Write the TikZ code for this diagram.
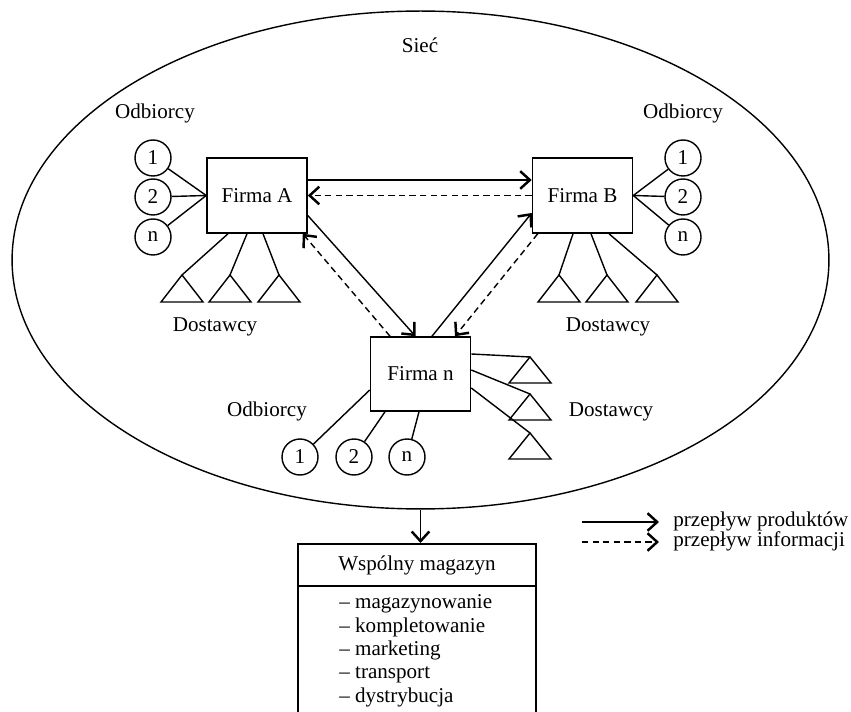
\documentclass[tikz,border=0pt]{standalone}
\usepackage{fontspec}
\setmainfont{Liberation Serif}
\usetikzlibrary{shapes.geometric,arrows.meta,calc}
\begin{document}
\begin{tikzpicture}[x=0.02cm,y=-0.02cm,
  every node/.style={font=\fontsize{12}{14}\selectfont, inner sep=0pt},
  ln/.style={line width=0.8pt},
  firm/.style={draw, line width=0.9pt, minimum width=2cm, minimum height=1.5cm},
  cust/.style={draw, circle, line width=0.8pt, minimum size=0.72cm},
  flow/.style={line width=0.8pt, -{Straight Barb[length=5.5pt,width=10pt,line width=1.4pt]}},
  info/.style={flow, dash pattern=on 3.6pt off 2.4pt},
  item/.style={anchor=west, text height=1.6ex, text depth=0.3ex}]
\useasboundingbox (0,0) rectangle (851,712);
\clip (0,0) rectangle (851,712);

% network ellipse
\node[ellipse, draw, line width=0.8pt, minimum width=16.34cm, minimum height=9.96cm] (net) at (420.5,260) {};
\node (siec) at (420,45) {Sieć};

% firms
\node[firm] (A) at (257,195.5) {Firma A};
\node[firm] (B) at (582.5,195.5) {Firma B};
\node[firm, minimum height=1.48cm] (N) at (420.5,374) {Firma n};

% labels
\node (odbA) at (155,113) {Odbiorcy};
\node (odbB) at (683,113) {Odbiorcy};
\node (odbN) at (267,411) {Odbiorcy};
\node (dosA) at (215,327) {Dostawcy};
\node (dosB) at (608,327) {Dostawcy};
\node (dosN) at (611,412) {Dostawcy};

% customers of A
\node[cust] (a1) at (153,158) {1};
\node[cust] (a2) at (153,197) {2};
\node[cust] (an) at (153,237) {n};
\foreach \c in {a1,a2,an} \draw[ln] (\c) -- (A.west);

% customers of B
\node[cust] (b1) at (683,158) {1};
\node[cust] (b2) at (683,197) {2};
\node[cust] (bn) at (683,237) {n};
\foreach \c in {b1,b2,bn} \draw[ln] (B.east) -- (\c);

% customers of n
\node[cust] (n1) at (300,457) {1};
\node[cust] (n2) at (354,457) {2};
\node[cust] (nn) at (407,457) {n};
\draw[ln] ($(N.west)+(0,16)$) -- (n1);
\draw[ln] ($(N.south)+(-35.5,0)$) -- (n2);
\draw[ln] ($(N.south)+(-1.5,0)$) -- (nn);

% suppliers of A
\coordinate (ta1) at (182,275);
\coordinate (ta2) at (230,275);
\coordinate (ta3) at (279,275);
\foreach \t in {ta1,ta2,ta3} \draw[ln] (\t) -- ++(-21,27) -- ++(42,0) -- cycle;
\draw[ln] ($(A.south)+(-29,0)$) -- (ta1);
\draw[ln] ($(A.south)+(-10,0)$) -- (ta2);
\draw[ln] ($(A.south)+(6,0)$) -- (ta3);

% suppliers of B
\coordinate (tb1) at (559,275);
\coordinate (tb2) at (607,275);
\coordinate (tb3) at (657,275);
\foreach \t in {tb1,tb2,tb3} \draw[ln] (\t) -- ++(-21,27) -- ++(42,0) -- cycle;
\draw[ln] ($(B.south)+(-9.5,0)$) -- (tb1);
\draw[ln] ($(B.south)+(8.5,0)$) -- (tb2);
\draw[ln] ($(B.south)+(26.5,0)$) -- (tb3);

% suppliers of n
\coordinate (tn1) at (530,357);
\coordinate (tn2) at (530,394);
\coordinate (tn3) at (530,433);
\foreach \t in {tn1,tn2,tn3} \draw[ln] (\t) -- ++(-21,26) -- ++(42,0) -- cycle;
\draw[ln] ($(N.east)+(0,-20)$) -- (tn1);
\draw[ln] ($(N.east)+(0,-4)$) -- (tn2);
\draw[ln] ($(N.east)+(0,14)$) -- (tn3);

% flows between firms
\draw[flow] ($(A.east)+(0,-15.5)$) -- ($(B.west)+(0,-15.5)$);
\draw[info] (B.west) -- (A.east);
\draw[flow] ($(A.east)+(0,20)$) -- ($(N.north)+(-5,0)$);
\draw[info] ($(N.north)+(-30.5,0)$) -- ($(A.south east)+(-5,0)$);
\draw[flow] ($(N.north)+(11.5,0)$) -- ($(B.west)+(0,17.5)$);
\draw[info] ($(B.south west)+(6,0)$) -- ($(N.north)+(34.5,0)$);

% common warehouse
\node[draw, line width=0.9pt, anchor=north, minimum width=4.76cm, minimum height=4cm] (mag) at (417,543) {};
\node (magt) at (417,565) {Wspólny magazyn};
\draw[ln] (mag.west |- 0,586) coordinate (dl) -- (mag.east |- 0,586) coordinate (dr);
\draw[flow] (net.south) -- (net.south |- mag.north);
\node[item] (i1) at (339,603) {– magazynowanie};
\node[item] (i2) at (339,627) {– kompletowanie};
\node[item] (i3) at (339,650) {– marketing};
\node[item] (i4) at (339,673) {– transport};
\node[item] (i5) at (339,697) {– dystrybucja};

% legend
\coordinate (l1s) at (582,522);
\coordinate (l1e) at (659,522);
\coordinate (l2s) at (582,542);
\coordinate (l2e) at (659,542);
\draw[flow] (l1s) -- (l1e);
\draw[info] (l2s) -- (l2e);
\node[anchor=west] (lt1) at (673,521) {przepływ produktów};
\node[anchor=west] (lt2) at (673,541) {przepływ informacji};
\end{tikzpicture}
\end{document}
